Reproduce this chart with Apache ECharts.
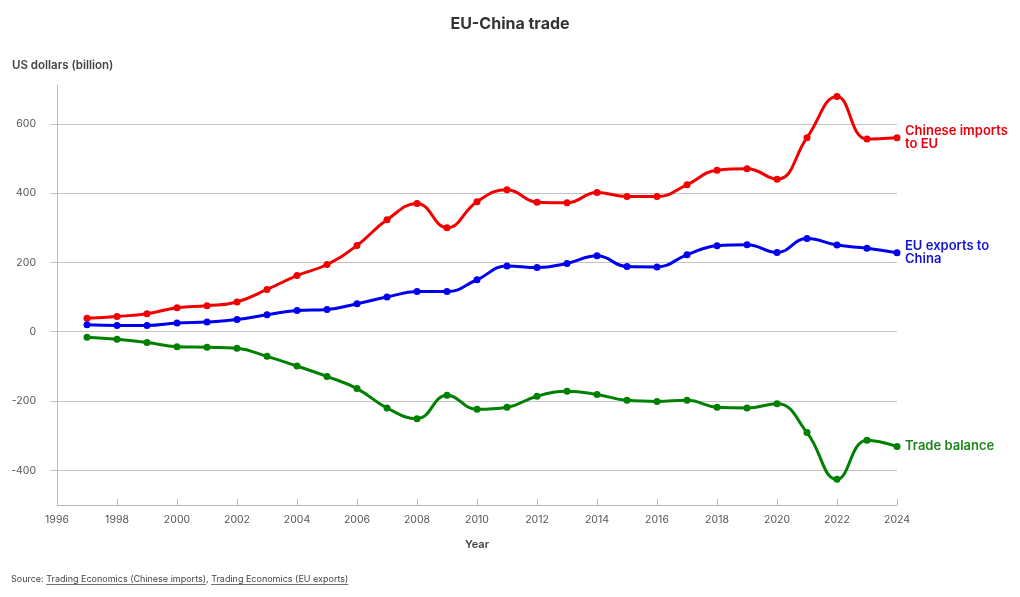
<!DOCTYPE html>
<html>
<head>
<meta charset="utf-8">
<script src="https://cdn.jsdelivr.net/npm/echarts@6/dist/echarts.min.js"></script>
<style>html,body{margin:0;padding:0;background:#fff}#c{width:1020px;height:597px}</style>
</head>
<body>
<div id="c"></div>
<script>
const years = [1997,1998,1999,2000,2001,2002,2003,2004,2005,2006,2007,2008,2009,2010,2011,2012,2013,2014,2015,2016,2017,2018,2019,2020,2021,2022,2023,2024];
const chineseImports = [39,44,52,69,75,86,122,162,194,249,323,370,300,375,410,374,372,402,390,390,424,466,470,440,560,679,556,560];
const euExports = [20,18,18,25,28,35,49,61,64,81,100,116,116,150,190,185,197,219,188,187,222,248,251,229,269,250,241,228];
const tradeBalance = [-16,-22,-31,-43,-45,-48,-71,-99,-129,-164,-220,-251,-183,-224,-218,-186,-172,-181,-198,-201,-198,-218,-220,-208,-291,-426,-313,-331];
const yTicks = [-400,-200,0,200,400,600];
const seriesNames = ['Chinese imports\nto EU','EU exports to\nChina','Trade balance'];
const seriesColors = ['#f00000','#0000ee','#008000'];
const labelColors = ['#e8000b','#1414d6','#1a861a'];

const FONT = 'Inter, "Noto Sans", sans-serif';
const chart = echarts.init(document.getElementById('c'));

function pairs(vals){ return years.map((y,i)=>[y, vals[i]]); }
function mkSeries(name, vals, idx){
  return {
    name: name, type: 'line', data: pairs(vals), smooth: 0.45,
    symbol: 'circle', symbolSize: 7,
    lineStyle: {width: 3, color: seriesColors[idx]},
    itemStyle: {color: seriesColors[idx]},
    endLabel: {show: true, formatter: name, color: labelColors[idx], fontFamily: FONT,
      fontWeight: 600, fontSize: 13, lineHeight: 13, distance: 8, align: 'left'},
    animation: false, z: 3
  };
}

const mctx = document.createElement('canvas').getContext('2d');
const srcFont = '9px ' + FONT;
mctx.font = srcFont;
const s0 = 'Source: ', s1 = 'Trading Economics (Chinese imports)', s2 = ', ', s3 = 'Trading Economics (EU exports)';
const x0 = 11, w0 = mctx.measureText(s0).width, w1 = mctx.measureText(s1).width, w2 = mctx.measureText(s2).width, w3 = mctx.measureText(s3).width;
const srcY = 579;
const srcColor = '#444';

chart.setOption({
  animation: false,
  title: {text: 'EU-China trade', left: 'center', top: 11,
    textStyle: {fontFamily: FONT, fontSize: 16, fontWeight: 'bold', color: '#333'}},
  grid: {left: 57, right: 123, top: 85, bottom: 92, containLabel: false},
  xAxis: {
    type: 'value', min: 1996, max: 2024, interval: 2,
    name: 'Year', nameLocation: 'middle', nameGap: 34,
    nameTextStyle: {fontFamily: FONT, fontWeight: 600, fontSize: 11, color: '#444'},
    axisLine: {show: true, onZero: false, lineStyle: {color: '#bbb', width: 1}},
    axisTick: {show: true, inside: true, length: 6, lineStyle: {color: '#bbb', width: 1}},
    axisLabel: {fontFamily: FONT, fontSize: 10.5, color: '#555', margin: 9, formatter: v => String(v)},
    splitLine: {show: false}
  },
  yAxis: {
    type: 'value', min: -500, max: 712,
    axisLine: {show: true, onZero: false, lineStyle: {color: '#bbb', width: 1}},
    axisTick: {show: true, inside: false, length: 7, customValues: yTicks, lineStyle: {color: '#c4c4c4', width: 1}},
    axisLabel: {fontFamily: FONT, fontSize: 10.5, color: '#555', margin: 21, customValues: yTicks},
    splitLine: {show: true, lineStyle: {color: '#c4c4c4', width: 1}}
  },
  graphic: [
    {type: 'text', left: 12, top: 60, style: {text: 'US dollars (billion)', font: '600 11.5px ' + FONT, fill: '#444'}},
    {type: 'text', x: x0, y: srcY, style: {text: s0, font: srcFont, fill: srcColor, textVerticalAlign: 'middle'}},
    {type: 'text', x: x0 + w0, y: srcY, style: {text: s1, font: srcFont, fill: srcColor, textVerticalAlign: 'middle'}},
    {type: 'rect', shape: {x: x0 + w0, y: srcY + 5, width: w1, height: 0.8}, style: {fill: srcColor}},
    {type: 'text', x: x0 + w0 + w1, y: srcY, style: {text: s2, font: srcFont, fill: srcColor, textVerticalAlign: 'middle'}},
    {type: 'text', x: x0 + w0 + w1 + w2, y: srcY, style: {text: s3, font: srcFont, fill: srcColor, textVerticalAlign: 'middle'}},
    {type: 'rect', shape: {x: x0 + w0 + w1 + w2, y: srcY + 5, width: w3, height: 0.8}, style: {fill: srcColor}}
  ],
  series: [
    mkSeries(seriesNames[0], chineseImports, 0),
    mkSeries(seriesNames[1], euExports, 1),
    mkSeries(seriesNames[2], tradeBalance, 2)
  ]
});
</script>
</body>
</html>
